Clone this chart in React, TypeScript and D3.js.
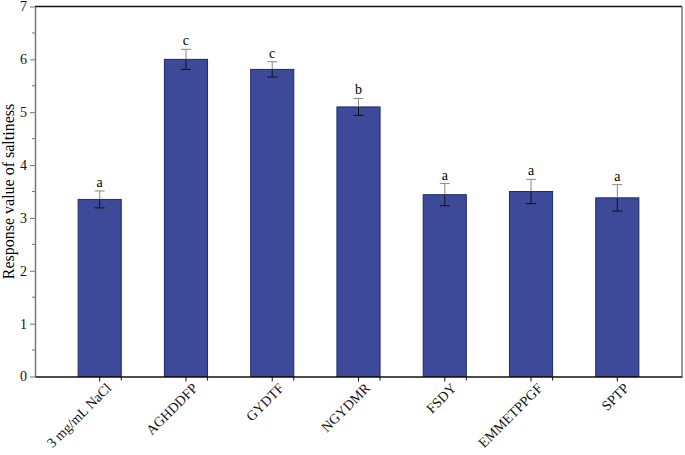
import React, { useEffect, useRef } from "react";
import * as d3 from "d3";

const categories = ["3 mg/mL NaCl", "AGHDDFP", "GYDTF", "NGYDMR", "FSDY", "EMMETPPGF", "SPTP"];
const values = [3.35, 6.0, 5.81, 5.1, 3.44, 3.5, 3.38];
const errors = [0.16, 0.19, 0.145, 0.16, 0.21, 0.23, 0.25];
const letters = ["a", "c", "c", "b", "a", "a", "a"];
const yTicks = [0, 1, 2, 3, 4, 5, 6, 7];

export default function App() {
  const ref = useRef<SVGSVGElement>(null);

  useEffect(() => {
    const width = 685,
      height = 455,
      margin = { top: 6.5, right: 3, bottom: 78.5, left: 35 };

    const svg = d3.select(ref.current);
    svg.selectAll("*").remove();

    const x = d3
      .scaleBand()
      .domain(categories)
      .range([margin.left, width - margin.right])
      .padding(0.5);

    const y = d3
      .scaleLinear()
      .domain([0, 7])
      .range([height - margin.bottom, margin.top]);

    const font = "'Liberation Serif', 'Times New Roman', serif";
    const data = categories.map((c, i) => ({ c, v: values[i], e: errors[i], l: letters[i] }));

    // frame: top black, right gray
    svg.append("line")
      .attr("x1", margin.left).attr("x2", width - margin.right)
      .attr("y1", margin.top).attr("y2", margin.top)
      .attr("stroke", "#111").attr("stroke-width", 1.5);
    svg.append("line")
      .attr("x1", width - margin.right).attr("x2", width - margin.right)
      .attr("y1", margin.top).attr("y2", y(0))
      .attr("stroke", "#777").attr("stroke-width", 1.5);

    // bars
    svg.append("g")
      .selectAll("rect")
      .data(data)
      .enter().append("rect")
      .attr("x", (d) => x(d.c)!)
      .attr("y", (d) => y(d.v))
      .attr("width", x.bandwidth())
      .attr("height", (d) => y(0) - y(d.v))
      .attr("fill", "#3d4a9a")
      .attr("stroke", "#1f2a6b")
      .attr("stroke-width", 1);

    // error bars
    const eb = svg.append("g").selectAll("g").data(data).enter().append("g");
    const cx = (d: any) => x(d.c)! + x.bandwidth() / 2;
    const cap = 5;
    eb.append("line")
      .attr("x1", cx).attr("x2", cx)
      .attr("y1", (d) => y(d.v + d.e)).attr("y2", (d) => y(d.v))
      .attr("stroke", "#888").attr("stroke-width", 1);
    eb.append("line")
      .attr("x1", (d) => cx(d) - cap).attr("x2", (d) => cx(d) + cap)
      .attr("y1", (d) => y(d.v + d.e)).attr("y2", (d) => y(d.v + d.e))
      .attr("stroke", "#888").attr("stroke-width", 1);
    eb.append("line")
      .attr("x1", cx).attr("x2", cx)
      .attr("y1", (d) => y(d.v)).attr("y2", (d) => y(d.v - d.e))
      .attr("stroke", "#111").attr("stroke-width", 1);
    eb.append("line")
      .attr("x1", (d) => cx(d) - cap).attr("x2", (d) => cx(d) + cap)
      .attr("y1", (d) => y(d.v - d.e)).attr("y2", (d) => y(d.v - d.e))
      .attr("stroke", "#111").attr("stroke-width", 1);

    // significance letters
    svg.append("g")
      .selectAll("text")
      .data(data)
      .enter().append("text")
      .attr("x", cx)
      .attr("y", (d) => y(d.v + d.e) - 4)
      .attr("text-anchor", "middle")
      .style("font-family", font)
      .style("font-size", "14px")
      .text((d) => d.l);

    // y axis
    const yAxis = svg.append("g")
      .attr("transform", `translate(${margin.left},0)`)
      .call(d3.axisLeft(y).tickValues(yTicks).tickFormat(d3.format("d")).tickSize(5).tickPadding(3).tickSizeOuter(0));
    yAxis.select(".domain").attr("stroke", "#777").attr("stroke-width", 1.5);
    yAxis.selectAll(".tick line").attr("stroke", "#777");
    yAxis.selectAll("text").style("font-family", font).style("font-size", "14px").attr("fill", "#111");
    svg.append("g")
      .selectAll("line")
      .data(d3.range(0.5, 7, 1))
      .enter().append("line")
      .attr("x1", margin.left - 3).attr("x2", margin.left)
      .attr("y1", (d) => y(d)).attr("y2", (d) => y(d))
      .attr("stroke", "#777");

    // x axis
    const xAxis = svg.append("g")
      .attr("transform", `translate(0,${y(0)})`)
      .call(d3.axisBottom(x).tickSize(5).tickSizeOuter(0));
    xAxis.select(".domain").attr("stroke", "#111").attr("stroke-width", 1.5);
    xAxis.selectAll(".tick line").attr("stroke", "#111");
    xAxis.selectAll("text")
      .style("font-family", font)
      .style("font-size", "14px")
      .attr("fill", "#111")
      .attr("text-anchor", "end")
      .attr("x", 0)
      .attr("y", 0)
      .attr("dy", "0.35em")
      .attr("transform", "translate(9,9) rotate(-45)");
    const step = x.step();
    svg.append("g")
      .selectAll("line")
      .data(d3.range(1, categories.length))
      .enter().append("line")
      .attr("x1", (i) => margin.left + i * step).attr("x2", (i) => margin.left + i * step)
      .attr("y1", y(0)).attr("y2", y(0) + 4)
      .attr("stroke", "#111");

    // y label
    svg.append("text")
      .attr("transform", `translate(8,${(margin.top + y(0)) / 2}) rotate(-90)`)
      .attr("text-anchor", "middle")
      .attr("dy", "0.35em")
      .style("font-family", font)
      .style("font-size", "16px")
      .text("Response value of saltiness");
  }, []);

  return (
    <svg
      ref={ref}
      width={685}
      height={455}
      style={{ position: "absolute", left: 0, top: 0, background: "#fff" }}
    />
  );
}
